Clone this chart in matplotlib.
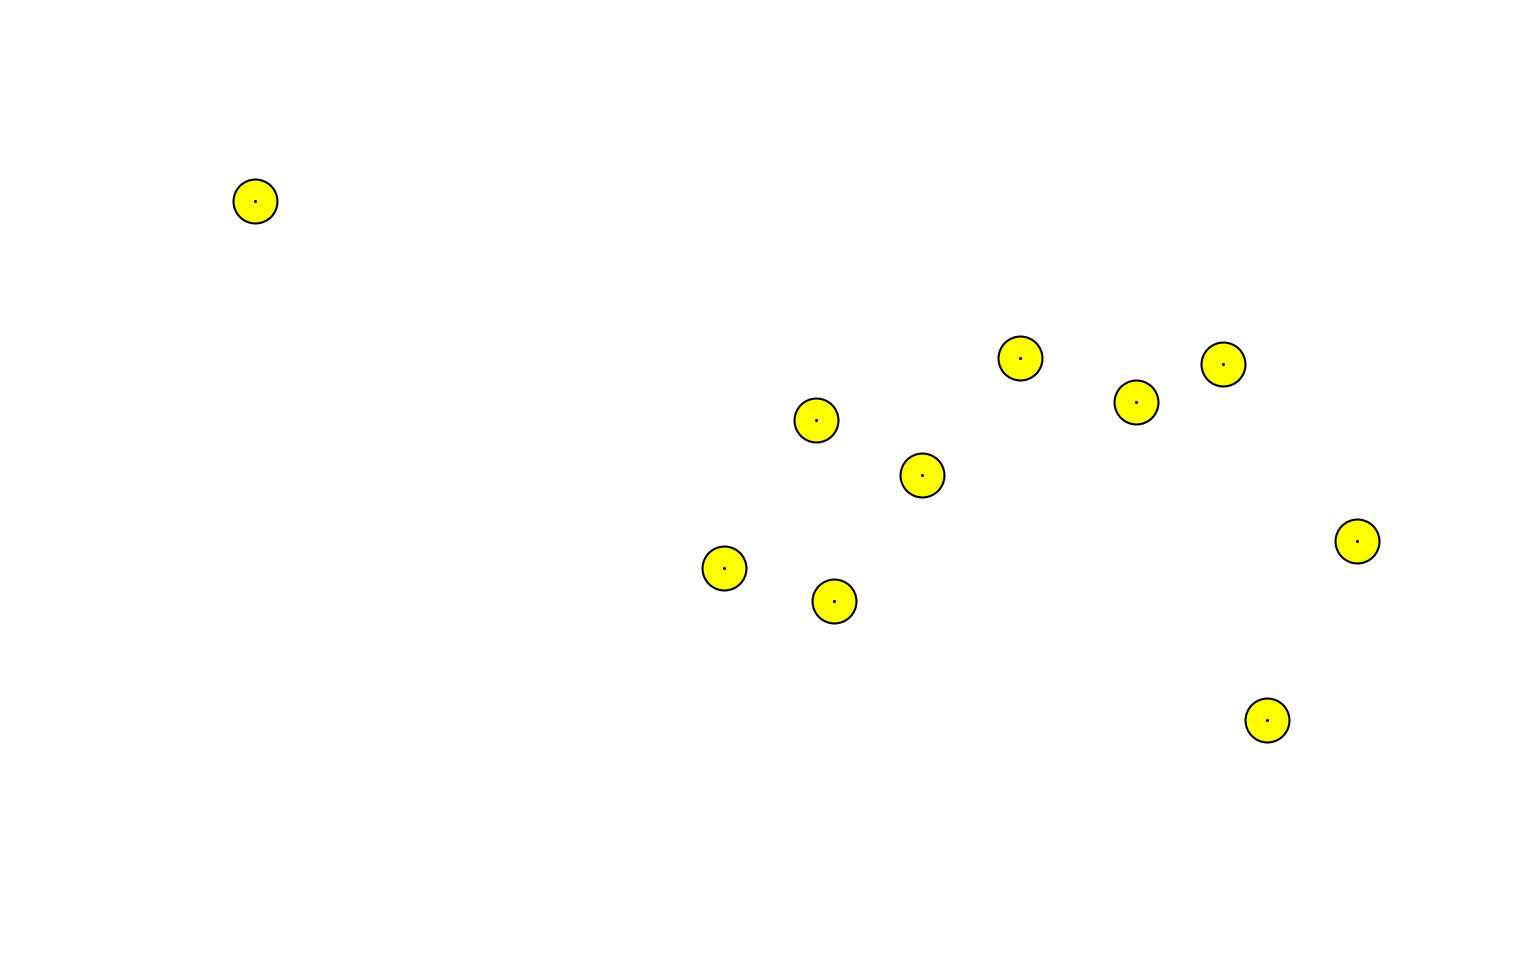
import matplotlib
matplotlib.use('Agg')
import matplotlib.pyplot as plt

# point positions (horizontal, vertical measured from top)
x_vals = [255, 1020, 1223, 1136, 816, 922, 1357, 724, 834, 1267]
y_vals = [201, 358, 364, 402, 420, 475, 541, 568, 601, 720]

fig = plt.figure(figsize=(15.36, 9.6), dpi=100)
ax = fig.add_axes([0, 0, 1, 1])
ax.set_xlim(0, 1536)
ax.set_ylim(960, 0)
ax.axis('off')

ax.scatter(x_vals, y_vals, s=1000, c='#ffff00', edgecolors='black', linewidths=1.5, zorder=2)
ax.scatter(x_vals, y_vals, s=5, c='black', linewidths=0, zorder=3)

fig.savefig('out.png', dpi=100, facecolor='white')
